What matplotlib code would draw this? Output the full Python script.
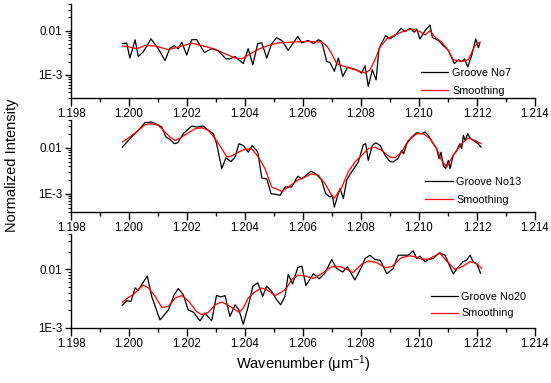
import matplotlib
matplotlib.use("Agg")
import matplotlib.pyplot as plt
from matplotlib.ticker import FixedLocator, FuncFormatter, NullFormatter, LogLocator, MultipleLocator

plt.rcParams['font.family'] = ['Liberation Sans', 'DejaVu Sans']
plt.rcParams['mathtext.fontset'] = 'custom'
plt.rcParams['mathtext.rm'] = 'Liberation Sans'
plt.rcParams['mathtext.it'] = 'Liberation Sans:italic'
plt.rcParams['mathtext.default'] = 'regular'

# ---------------- data ----------------
p1_black_x = [1.19977,1.19992,1.20003,1.20021,1.20032,1.20049,1.20076,1.20101,1.20124,1.20141,1.20156,1.20170,1.20182,1.20199,1.20216,1.20233,1.20260,1.20285,1.20308,1.20334,1.20348,1.20366,1.20394,1.20411,1.20427,1.20444,1.20458,1.20475,1.20492,1.20509,1.20527,1.20549,1.20582,1.20596,1.20618,1.20636,1.20653,1.20664,1.20682,1.20693,1.20708,1.20722,1.20737,1.20754,1.20768,1.20785,1.20802,1.20814,1.20825,1.20839,1.20852,1.20862,1.20873,1.20885,1.20900,1.20917,1.20938,1.20952,1.20969,1.20984,1.20992,1.21003,1.21021,1.21038,1.21046,1.21067,1.21084,1.21101,1.21122,1.21136,1.21148,1.21157,1.21168,1.21182,1.21196,1.21205,1.21210]
p1_black_y = [0.0051,0.0052,0.0024,0.0062,0.0026,0.0033,0.0065,0.0039,0.0021,0.0040,0.0045,0.0039,0.0055,0.0028,0.0062,0.0063,0.0032,0.0039,0.0035,0.0023,0.0023,0.0026,0.0018,0.0039,0.0017,0.0051,0.0053,0.0024,0.0051,0.0069,0.0060,0.0036,0.0074,0.0053,0.0060,0.0051,0.0062,0.0058,0.0020,0.0019,0.0012,0.0024,0.00092,0.0015,0.0014,0.0013,0.0011,0.0016,0.00055,0.0013,0.00077,0.0039,0.0055,0.0077,0.0065,0.0077,0.0113,0.0095,0.0113,0.0092,0.0109,0.0065,0.0100,0.0134,0.0070,0.0060,0.0046,0.0036,0.0018,0.0022,0.0020,0.0023,0.0015,0.0028,0.0065,0.0041,0.0053]
p1_red_x = [1.19977,1.19998,1.20027,1.20055,1.20090,1.20136,1.20182,1.20216,1.20251,1.20297,1.20331,1.20366,1.20389,1.20411,1.20446,1.20480,1.20515,1.20561,1.20618,1.20664,1.20682,1.20699,1.20716,1.20745,1.20779,1.20814,1.20831,1.20848,1.20866,1.20889,1.20917,1.20952,1.20975,1.21003,1.21021,1.21038,1.21055,1.21078,1.21101,1.21118,1.21148,1.21170,1.21193,1.21210]
p1_red_y = [0.0045,0.0043,0.0039,0.0046,0.0045,0.0037,0.0045,0.0052,0.0046,0.0038,0.0030,0.0024,0.0023,0.0028,0.0038,0.0046,0.0053,0.0055,0.0057,0.0055,0.0045,0.0030,0.0018,0.00153,0.0013,0.0011,0.0013,0.0022,0.0043,0.0065,0.0080,0.0100,0.0109,0.0095,0.0080,0.0100,0.0071,0.0055,0.0036,0.0022,0.0020,0.0022,0.0046,0.0055]

p2_black_x = [1.19977,1.19998,1.20009,1.20032,1.20055,1.20078,1.20096,1.20113,1.20127,1.20141,1.20156,1.20168,1.20187,1.20216,1.20233,1.20256,1.20274,1.20291,1.20302,1.20320,1.20334,1.20352,1.20366,1.20379,1.20394,1.20411,1.20425,1.20444,1.20458,1.20475,1.20490,1.20506,1.20521,1.20538,1.20561,1.20582,1.20596,1.20628,1.20647,1.20664,1.20678,1.20693,1.20701,1.20708,1.20720,1.20728,1.20739,1.20751,1.20768,1.20779,1.20791,1.20799,1.20808,1.20816,1.20825,1.20839,1.20851,1.20866,1.20883,1.20900,1.20911,1.20928,1.20940,1.20947,1.20958,1.20975,1.20992,1.21009,1.21021,1.21032,1.21049,1.21061,1.21069,1.21076,1.21084,1.21092,1.21101,1.21107,1.21118,1.21130,1.21141,1.21147,1.21153,1.21159,1.21168,1.21176,1.21187,1.21193,1.21204,1.21214]
p2_black_y = [0.0103,0.0144,0.0171,0.0238,0.0349,0.0361,0.0321,0.0281,0.0171,0.0152,0.0122,0.0128,0.0201,0.0296,0.0281,0.0296,0.0238,0.0201,0.0122,0.0035,0.0060,0.0050,0.0063,0.0122,0.0112,0.0080,0.0112,0.0080,0.0022,0.0021,0.0010,0.00097,0.00092,0.0014,0.0014,0.0024,0.0021,0.0031,0.0026,0.0020,0.0010,0.00085,0.00092,0.00051,0.00092,0.0013,0.00078,0.0020,0.0030,0.0038,0.0049,0.0074,0.0116,0.0122,0.0053,0.0112,0.0128,0.0112,0.0068,0.0050,0.0049,0.0058,0.0087,0.0074,0.0122,0.0171,0.0212,0.0201,0.0219,0.0185,0.0122,0.0095,0.0058,0.0080,0.0041,0.0035,0.0053,0.0035,0.0068,0.0087,0.0122,0.0095,0.0185,0.0144,0.0201,0.0162,0.0144,0.0137,0.0122,0.0103]
p2_red_x = [1.19977,1.20003,1.20032,1.20055,1.20078,1.20101,1.20124,1.20141,1.20159,1.20176,1.20199,1.20228,1.20251,1.20274,1.20297,1.20320,1.20337,1.20354,1.20377,1.20400,1.20423,1.20446,1.20469,1.20492,1.20527,1.20549,1.20584,1.20607,1.20630,1.20653,1.20676,1.20699,1.20708,1.20734,1.20756,1.20779,1.20802,1.20825,1.20848,1.20871,1.20900,1.20917,1.20940,1.20963,1.20992,1.21015,1.21038,1.21061,1.21078,1.21095,1.21118,1.21147,1.21170,1.21193,1.21214]
p2_red_y = [0.0133,0.0171,0.0238,0.0316,0.0333,0.0306,0.0219,0.0171,0.0144,0.0162,0.0201,0.0259,0.0272,0.0238,0.0157,0.0095,0.0063,0.0066,0.0080,0.0092,0.0095,0.0063,0.0035,0.0014,0.00112,0.0014,0.0020,0.0023,0.0027,0.0025,0.00165,0.00092,0.00080,0.0014,0.0030,0.0049,0.0068,0.0095,0.0103,0.0087,0.0063,0.0060,0.0080,0.0144,0.0201,0.0201,0.0157,0.0095,0.0053,0.0038,0.0068,0.0122,0.0162,0.0144,0.0122]

p3_black_x = [1.19977,1.19992,1.20007,1.20021,1.20032,1.20044,1.20063,1.20078,1.20107,1.20136,1.20156,1.20170,1.20187,1.20204,1.20222,1.20245,1.20262,1.20285,1.20302,1.20317,1.20331,1.20348,1.20366,1.20379,1.20394,1.20411,1.20427,1.20444,1.20461,1.20475,1.20492,1.20509,1.20523,1.20538,1.20549,1.20564,1.20582,1.20596,1.20610,1.20636,1.20656,1.20676,1.20699,1.20716,1.20737,1.20753,1.20779,1.20802,1.20814,1.20831,1.20848,1.20866,1.20889,1.20911,1.20928,1.20946,1.20963,1.20980,1.20992,1.21003,1.21021,1.21032,1.21049,1.21070,1.21090,1.21107,1.21118,1.21136,1.21151,1.21164,1.21176,1.21187,1.21199,1.21212]
p3_black_y = [0.00243,0.00292,0.00284,0.00483,0.00435,0.00551,0.00768,0.00347,0.00137,0.00204,0.00371,0.0047,0.00371,0.00204,0.00186,0.00132,0.00179,0.00132,0.0036,0.00338,0.00357,0.00157,0.00249,0.00204,0.00116,0.00233,0.00516,0.00589,0.00347,0.00516,0.00422,0.00304,0.00249,0.00347,0.0082,0.00567,0.0107,0.0114,0.0053,0.0084,0.0069,0.0086,0.0147,0.0103,0.0090,0.011,0.0066,0.011,0.0153,0.0174,0.0147,0.0143,0.0084,0.0103,0.0174,0.0174,0.0174,0.0207,0.0153,0.0168,0.0134,0.0147,0.0153,0.0191,0.0174,0.011,0.0084,0.011,0.0134,0.0143,0.0174,0.0134,0.0125,0.0086]
p3_red_x = [1.19977,1.19998,1.20015,1.20032,1.20049,1.20067,1.20090,1.20113,1.20136,1.20159,1.20182,1.20204,1.20233,1.20251,1.20274,1.20297,1.20320,1.20343,1.20379,1.20394,1.20411,1.20434,1.20458,1.20480,1.20503,1.20527,1.20544,1.20561,1.20584,1.20607,1.20636,1.20664,1.20699,1.20728,1.20751,1.20773,1.20802,1.20825,1.20854,1.20883,1.20906,1.20940,1.20969,1.20986,1.21009,1.21032,1.21055,1.21072,1.21095,1.21124,1.21147,1.21176,1.21199,1.21216]
p3_red_y = [0.00274,0.00334,0.00371,0.00452,0.00537,0.00483,0.00347,0.00224,0.00233,0.00325,0.00357,0.00292,0.00191,0.00168,0.00186,0.00249,0.00277,0.00243,0.00186,0.00218,0.00325,0.00412,0.00483,0.00435,0.00357,0.00412,0.00483,0.00673,0.00798,0.00768,0.0070,0.0084,0.011,0.0111,0.0100,0.0088,0.0122,0.0139,0.0130,0.0107,0.0111,0.0159,0.0170,0.0163,0.0149,0.0149,0.0170,0.0189,0.0139,0.0100,0.011,0.0135,0.0125,0.0104]

groove_labels = ["Groove No7", "Groove No13", "Groove No20"]
smooth_label = "Smoothing"
x_ticks = [1.198, 1.200, 1.202, 1.204, 1.206, 1.208, 1.210, 1.212, 1.214]
y_ticks = [0.001, 0.01]
y_ticklabels = ["1E-3", "0.01"]
ylims = [(3e-4, 0.04), (4e-4, 0.04), (1e-3, 0.04)]
xlim = (1.198, 1.214)

panels = [
    (p1_black_x, p1_black_y, p1_red_x, p1_red_y),
    (p2_black_x, p2_black_y, p2_red_x, p2_red_y),
    (p3_black_x, p3_black_y, p3_red_x, p3_red_y),
]

# ---------------- layout ----------------
W, H = 551, 383
fig = plt.figure(figsize=(W / 100, H / 100), dpi=100)
ax_left, ax_right = 71, 535
boxes = [(4, 98), (120, 212), (234, 328)]  # top, bottom in px
leg_anchor = [(0.755, 0.32), (0.764, 0.385), (0.775, 0.385)]
leg_spacing = [0.75, 0.75, 0.6]

fmt = dict(zip([round(v, 6) for v in y_ticks], y_ticklabels))

for i, ((bx, by, rx, ry), (top, bot)) in enumerate(zip(panels, boxes)):
    ax = fig.add_axes([ax_left / W, 1 - bot / H, (ax_right - ax_left) / W, (bot - top) / H])
    ax.plot(bx, by, color='black', lw=0.9, label=groove_labels[i])
    ax.plot(rx, ry, color='#ff0000', lw=0.9, label=smooth_label)
    ax.set_yscale('log')
    ax.set_xlim(*xlim)
    ax.set_ylim(*ylims[i])
    ax.spines['top'].set_visible(False)
    ax.spines['right'].set_visible(False)
    for s in ('left', 'bottom'):
        ax.spines[s].set_linewidth(1.0)
    ax.xaxis.set_major_locator(FixedLocator(x_ticks))
    ax.xaxis.set_major_formatter(FuncFormatter(lambda v, p: f"{v:.3f}"))
    ax.xaxis.set_minor_locator(MultipleLocator(0.001))
    ax.yaxis.set_major_locator(FixedLocator(y_ticks))
    ax.yaxis.set_major_formatter(FuncFormatter(lambda v, p: fmt.get(round(v, 6), "")))
    ax.yaxis.set_minor_locator(LogLocator(base=10, subs=range(2, 10)))
    ax.yaxis.set_minor_formatter(NullFormatter())
    ax.tick_params(axis='x', which='major', direction='out', length=5.5, width=1.0, labelsize=8.3, pad=1.5)
    ax.tick_params(axis='x', which='minor', direction='out', length=3, width=1.0)
    ax.tick_params(axis='y', which='major', direction='out', length=4, width=1.0, labelsize=8.3, pad=2.5)
    ax.tick_params(axis='y', which='minor', direction='out', length=2.2, width=0.8)
    ax.legend(loc='upper left', bbox_to_anchor=leg_anchor[i], frameon=False, fontsize=7.8,
              borderpad=0, borderaxespad=0, handlelength=2.5, handletextpad=0.35,
              labelspacing=leg_spacing[i])
    if i == 2:
        ax.set_xlabel("Wavenumber (μm$^{-1}$)", fontsize=10.5, labelpad=3)

fig.text(12 / W, 1 - 165 / H, "Normalized Intensity", rotation=90, fontsize=10.5, ha='center', va='center')

fig.savefig("out.png", dpi=100)
